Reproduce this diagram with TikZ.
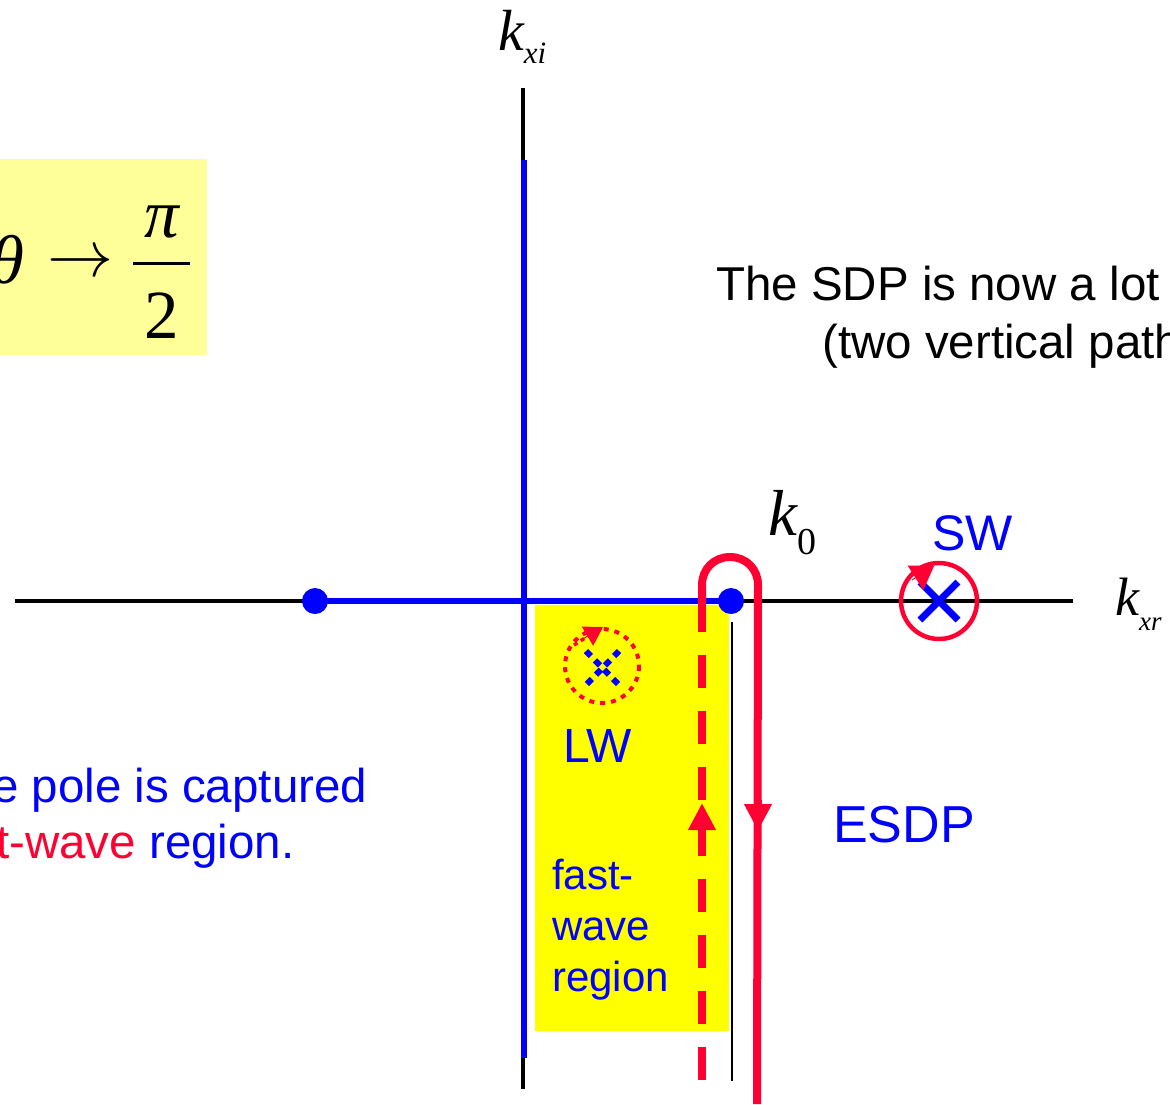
\RequirePackage{fix-cm}
\documentclass[tikz,border=0pt]{standalone}
\usepackage{fontspec}
\setmainfont{Liberation Sans}
\newfontfamily\tnr{Liberation Serif}
\usetikzlibrary{arrows.meta}
\definecolor{pblue}{RGB}{0,0,255}
\definecolor{pred}{RGB}{255,0,51}
\definecolor{pyellow}{RGB}{255,255,0}
\definecolor{ppale}{RGB}{255,255,153}
\newcommand{\fsz}[2]{\fontsize{#1}{#2}\selectfont}
\newcommand{\kvar}[4]{{\tnr\itshape\fsz{#1}{#1}k\raisebox{-#3pt}{\fsz{#2}{#2}#4}}}

\begin{document}
\begin{tikzpicture}[x=1pt,y=1pt,yscale=-1,xscale=1,
  axis/.style={line width=3.5},
  blueline/.style={pblue,line width=6.5},
  redpath/.style={pred,line width=8},
  lbl/.style={anchor=base west,inner sep=0},
  sym/.style={anchor=base,inner sep=0,font=\tnr\fsz{69}{70}}]
\useasboundingbox (0,0) rectangle (1170,1104);
\clip (0,0) rectangle (1170,1104);

%Shape: Rectangle [pale box]
\fill [ppale] (0,159) rectangle (207,355);
%Shape: Rectangle [fast-wave region]
\fill [pyellow] (535,605) rectangle (729,1031);

%Straight Lines [axes]
\draw [axis] (15,601) -- (1073,601);
\draw [axis] (523,88) -- (523,1089);
\draw [line width=2.2] (732,622) -- (732,1081);

%Straight Lines [branch cuts]
\draw [blueline] (524,160) -- (524,1058);
\draw [blueline] (315,601) -- (731,601);
\fill [pblue] (315,601) circle [radius=13];
\fill [pblue] (731,601) circle [radius=13];

%Curve Lines [ESDP]
\draw [redpath, dash pattern=on 33pt off 23pt] (702,1080) -- (702,600);
\draw [redpath] (702,600) -- (702,585) .. controls (702,569) and (714,557) .. (730,557)
  .. controls (746,557) and (758,569) .. (758,585) -- (757,1104);
\draw [redpath, -{Triangle[length=27pt,width=26pt]}] (758,800) -- (758,831);
\draw [redpath, -{Triangle[length=27pt,width=26pt]}] (702,836) -- (702,803);

%Shape: Circle [SW pole]
\draw [pred, line width=4.5] (939,601) circle [radius=38];
\draw [pblue, line width=7] (920,582) -- (958,620) (920,620) -- (958,582);
\draw [pred, line width=1, -{Triangle[length=22pt,width=29pt]}] (912,580) -- (934,566);

%Shape: Circle [LW pole]
\draw [pred, line width=4, dash pattern=on 5pt off 6pt] (602,666) circle [radius=37];
\draw [pblue, line width=6, dash pattern=on 7pt off 6pt] (586,651) -- (619,685) (619,651) -- (586,685);
\draw [pred, line width=3.5, dash pattern=on 4pt off 4pt] (574,645) -- (588,636);
\draw [pred, line width=1, -{Triangle[length=18pt,width=22pt]}] (581,640) -- (603,627);

% Text Node
\draw (25,283) node [anchor=base east, inner sep=0, font=\tnr\itshape\fsz{69}{70}] (theta) {θ};
% Text Node
\draw (80.5,264) node [inner sep=0] (arrow) {\fsz{66}{70}$\rightarrow$};
% Text Node
\draw (162,237) node [sym, font=\tnr\itshape\fsz{69}{70}] (pinum) {π};
%Straight Lines [fraction bar]
\draw [line width=3] (133,263) -- (190,263);
% Text Node
\draw (162,338) node [sym] (twoden) {2};
% Text Node
\draw (498,50) node [lbl] (kxi) {\kvar{58}{31}{13}{xi}};
% Text Node
\draw (768,535) node [lbl] (kzero) {\kvar{65}{38}{19}{\upshape 0}};
% Text Node
\draw (1115,615) node [lbl] (kxr) {\kvar{54}{27}{15}{xr}};
% Text Node
\draw (716,300) node [lbl] (sdpa) {\fsz{47.5}{55}The SDP is now a lot};
% Text Node
\draw (822,358) node [lbl] (sdpb) {\fsz{47.5}{55}(two vertical path};
% Text Node
\draw (932,550) node [lbl, pblue] (sw) {\fsz{50}{55}SW};
% Text Node
\draw (563,762) node [lbl, pblue] (lw) {\fsz{48}{55}LW};
% Text Node
\draw (833,842) node [lbl, pblue] (esdp) {\fsz{52}{55}ESDP};
% Text Node
\draw (552,859) node [anchor=north west, inner sep=0, align=left, pblue, font=\fsz{42}{51}] (fwr) {fast-\\wave\\region};
% Text Node
\draw (-8,802) node [lbl, pblue] (capa) {\fsz{47.5}{55}e pole is captured};
% Text Node
\draw (-4,858) node [lbl, pblue] (capb) {\fsz{47.5}{55}{\color{pred}t-wave} region.};

\end{tikzpicture}
\end{document}
